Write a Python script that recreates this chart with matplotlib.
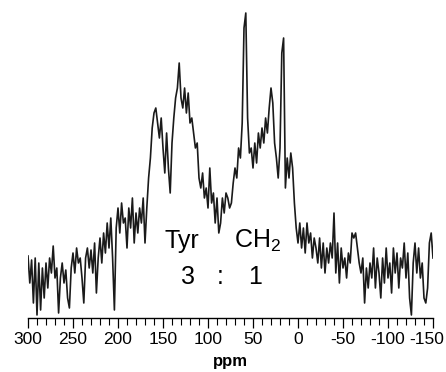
import numpy as np
import matplotlib
matplotlib.use("Agg")
from matplotlib import pyplot as plt
from matplotlib.ticker import MultipleLocator
from matplotlib import transforms

plt.rcParams['font.family'] = ['Liberation Sans', 'DejaVu Sans']
plt.rcParams['mathtext.fontset'] = 'custom'
plt.rcParams['mathtext.rm'] = 'Liberation Sans'
plt.rcParams['axes.unicode_minus'] = False

# chemical shift axis, 300 -> -150 ppm in 2 ppm steps
ppm = np.arange(300, -151, -2)

# intensity (arbitrary units)
intensity = [
    62, 35, 58, 15, 60, 3, 55, 8, 50, 20,          # 300..282
    55, 30, 60, 45, 72, 40, 50, 5, 40, 55,         # 280..262
    35, 48, 20, 10, 50, 65, 45, 70, 55, 60,        # 260..242
    40, 15, 60, 70, 50, 68, 45, 75, 25, 60,        # 240..222
    80, 55, 85, 65, 95, 70, 100, 60, 8, 90,        # 220..202
    110, 85, 115, 95, 100, 70, 110, 90, 120, 75,   # 200..182
    105, 85, 110, 95, 120, 75, 110, 140, 160, 190, # 180..162
    205, 210, 195, 180, 200, 170, 145, 185, 150, 125,  # 160..142
    175, 200, 220, 230, 255, 220, 210, 230, 205, 225,  # 140..122
    195, 200, 185, 170, 175, 140, 130, 145, 120, 130,  # 120..102
    110, 150, 115, 125, 95, 120, 85, 95, 120, 105,     # 100..82
    125, 120, 110, 115, 135, 150, 140, 170, 160, 195,  # 80..62
    290, 305, 200, 165, 170, 150, 175, 155, 185, 170,  # 60..42
    190, 175, 200, 185, 210, 230, 215, 175, 160, 140,  # 40..22
    170, 265, 280, 130, 160, 140, 165, 150, 115, 90,   # 20..2
    75, 95, 70, 90, 65, 95, 75, 85, 60, 80,            # 0..-18
    70, 55, 80, 50, 75, 45, 70, 55, 75, 60,            # -20..-38
    105, 45, 75, 35, 70, 50, 60, 40, 65, 55,           # -40..-58
    85, 80, 85, 70, 55, 45, 60, 15, 50, 30,            # -60..-78
    55, 40, 70, 30, 60, 45, 20, 60, 35, 70,            # -80..-98
    40, 55, 25, 70, 45, 65, 30, 60, 50, 75,            # -100..-118
    40, 65, 20, 3, 55, 75, 45, 70, 40, 55,             # -120..-138
    20, 15, 30, 75, 85, 60,                            # -140..-150
]

fig = plt.figure(figsize=(4.46, 3.72), dpi=100)
ax = fig.add_axes([28 / 446, 54 / 372, 405 / 446, 318 / 372])
ax.plot(ppm, intensity, color='#1a1a1a', lw=1.2)

ax.set_xlim(300, -150)
ax.set_ylim(0, 318)
for s in ['top', 'left', 'right']:
    ax.spines[s].set_visible(False)
ax.spines['bottom'].set_linewidth(1.0)
ax.set_yticks([])
ax.xaxis.set_major_locator(MultipleLocator(50))
ax.xaxis.set_minor_locator(MultipleLocator(10))
ax.tick_params(axis='x', which='major', length=7, width=0.9, labelsize=12.5, pad=3)
ax.tick_params(axis='x', which='minor', length=5, width=0.8)
ax.set_xlabel('ppm', fontsize=12, fontweight='bold', labelpad=5)

# nudge the last tick label so it stays inside the figure
fig.canvas.draw()
last = ax.get_xticklabels()[-1]
for lbl in ax.get_xticklabels():
    if lbl.get_text() == '-150':
        lbl.set_transform(lbl.get_transform() +
                          transforms.ScaledTranslation(-6 / 100, 0, fig.dpi_scale_trans))

def px(x, y):
    return x / 446, 1 - y / 372

fig.text(*px(182, 241), 'Tyr', fontsize=18, ha='center', va='center')
fig.text(*px(258, 241), r'CH$_{2}$', fontsize=18, ha='center', va='center')
fig.text(*px(188, 277), '3', fontsize=18, ha='center', va='center')
fig.text(*px(220, 277), ':', fontsize=18, ha='center', va='center')
fig.text(*px(255, 277), '1', fontsize=18, ha='center', va='center')

fig.savefig('out.png', dpi=100)
